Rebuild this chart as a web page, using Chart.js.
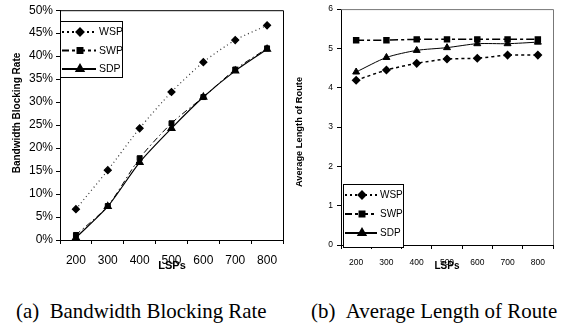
<!DOCTYPE html>
<html><head><meta charset="utf-8">
<script src="https://cdn.jsdelivr.net/npm/chart.js@4/dist/chart.umd.min.js"></script>
<style>
html,body{margin:0;padding:0;background:#fff;width:565px;height:326px;overflow:hidden;}
#wa{position:absolute;left:0;top:0;width:290px;height:275px;}
#wb{position:absolute;left:290px;top:0;width:275px;height:275px;}
.cap{position:absolute;top:301px;font-family:"Liberation Serif","Times New Roman",serif;font-size:20.9px;line-height:1;color:#000;white-space:nowrap;}
</style></head><body>
<div id="wa"><canvas id="ca"></canvas></div>
<div id="wb"><canvas id="cb"></canvas></div>
<div class="cap" style="left:16px">(a)&nbsp;&nbsp;Bandwidth Blocking Rate</div>
<div class="cap" style="left:311px">(b)&nbsp;&nbsp;Average Length of Route</div>
<script>
// ---- data ----
const lsps = ['200', '300', '400', '500', '600', '700', '800'];
const seriesNames = ['WSP', 'SWP', 'SDP'];
// (a) Bandwidth blocking rate, percent
const blockWSP = [6.7, 15.2, 24.3, 32.2, 38.7, 43.5, 46.7];
const blockSWP = [1.1, 7.4, 17.8, 25.4, 31.1, 37.1, 41.7];
const blockSDP = [0.5, 7.3, 16.9, 24.3, 31.1, 36.8, 41.5];
// (b) Average length of route
const routeWSP = [4.19, 4.45, 4.62, 4.73, 4.75, 4.83, 4.83];
const routeSWP = [5.21, 5.21, 5.23, 5.23, 5.23, 5.23, 5.23];
const routeSDP = [4.40, 4.77, 4.95, 5.02, 5.12, 5.12, 5.16];
const titleA = 'Bandwidth Blocking Rate';
const titleB = 'Average Length of Route';
const xTitle = 'LSPs';

const SANS = '"Liberation Sans", Arial, sans-serif';

// ---- plugins ----
const framePlugin = {
  id: 'frame',
  afterDatasetsDraw(chart, args, o) {
    const {ctx, chartArea: a} = chart;
    ctx.save();
    ctx.strokeStyle = o.color || '#000';
    ctx.lineWidth = 1;
    ctx.beginPath();
    ctx.moveTo(a.left, a.top + 0.5);
    ctx.lineTo(a.right + 0.5, a.top + 0.5);
    ctx.lineTo(a.right + 0.5, a.bottom);
    ctx.stroke();
    ctx.restore();
  }
};

const boxLegend = {
  id: 'boxLegend',
  afterDatasetsDraw(chart, args, o) {
    const ctx = chart.ctx;
    ctx.save();
    ctx.fillStyle = '#fff';
    ctx.fillRect(o.x, o.y, o.w, o.h);
    ctx.strokeStyle = '#000';
    ctx.lineWidth = 1;
    ctx.strokeRect(o.x + 0.5, o.y + 0.5, o.w, o.h);
    chart.data.datasets.forEach((ds, i) => {
      const y = o.y + o.row0 + i * o.rowGap;
      ctx.strokeStyle = '#000';
      ctx.lineWidth = o.lineWidth;
      ctx.setLineDash(o.dashes[i]);
      ctx.beginPath();
      ctx.moveTo(o.x + 2, y);
      ctx.lineTo(o.x + o.lineLen, y);
      ctx.stroke();
      ctx.setLineDash([]);
      ctx.fillStyle = '#000';
      Chart.helpers.drawPoint(ctx, {pointStyle: ds.pointStyle, radius: ds.pointRadius, rotation: 0, borderWidth: 1}, o.x + o.markX, y);
      ctx.fillStyle = '#000';
      ctx.font = o.font;
      ctx.textBaseline = 'middle';
      ctx.textAlign = 'left';
      ctx.fillText(ds.label, o.x + o.textX, y + 0.5);
    });
    ctx.restore();
  }
};

const axisTitles = {
  id: 'axisTitles',
  afterDraw(chart, args, o) {
    const ctx = chart.ctx;
    ctx.save();
    ctx.fillStyle = '#000';
    ctx.font = o.font;
    ctx.textAlign = 'center';
    ctx.textBaseline = 'middle';
    ctx.fillText(o.x.text, o.x.cx, o.x.cy);
    ctx.font = o.yfont;
    ctx.translate(o.y.cx, o.y.cy);
    ctx.rotate(-Math.PI / 2);
    ctx.fillText(o.y.text, 0, 0);
    ctx.restore();
  }
};

function mkDs(label, data, style, radius, dash, width, color) {
  return {
    label, data,
    borderColor: color, backgroundColor: '#000',
    pointBackgroundColor: '#000', pointBorderColor: '#000',
    pointStyle: style, pointRadius: radius, pointHoverRadius: radius,
    borderWidth: width, borderDash: dash, tension: 0.25, fill: false
  };
}

function mkOptions(cfg) {
  return {
    responsive: true, maintainAspectRatio: false, animation: false,
    layout: {padding: cfg.padding},
    plugins: {
      legend: {display: false}, tooltip: {enabled: false},
      frame: {color: cfg.frameColor},
      boxLegend: cfg.legend,
      axisTitles: cfg.titles
    },
    scales: {
      x: {
        type: 'category', offset: true,
        grid: {display: true, offset: true, drawOnChartArea: false, drawTicks: true, tickLength: 4, color: '#000', tickColor: '#000'},
        border: {display: true, color: '#000', width: 1},
        ticks: {color: '#000', font: {family: SANS, size: cfg.tickSize}, padding: cfg.xPad, maxRotation: 0, autoSkip: false},
        afterFit(s) { s.height = cfg.xHeight; }
      },
      y: {
        min: cfg.min, max: cfg.max,
        grid: {display: true, drawOnChartArea: false, drawTicks: true, tickLength: 4, color: '#000', tickColor: '#000'},
        border: {display: true, color: '#000', width: 1},
        ticks: {color: '#000', font: {family: SANS, size: cfg.tickSize}, padding: cfg.yPad, stepSize: cfg.step, callback: cfg.fmt},
        afterFit(s) { s.width = cfg.yWidth; }
      }
    }
  };
}

// ---- chart (a) ----
new Chart(document.getElementById('ca'), {
  type: 'line',
  data: {
    labels: lsps,
    datasets: [
      mkDs(seriesNames[0], blockWSP, 'rectRot', 3.5, [1, 3], 1.2, '#333'),
      mkDs(seriesNames[1], blockSWP, 'rect', 3.5, [6, 3, 1.5, 3], 1, '#000'),
      mkDs(seriesNames[2], blockSDP, 'triangle', 4, [], 1.2, '#000')
    ]
  },
  options: mkOptions({
    padding: {left: 0, top: 10, right: 7, bottom: 0},
    frameColor: '#000', tickSize: 12, xPad: 9, yPad: 3, xHeight: 35, yWidth: 60,
    min: 0, max: 50, step: 5, fmt: v => v + '%',
    legend: {x: 60, y: 21, w: 62, h: 56, row0: 11, rowGap: 18.5, lineLen: 36, markX: 20, textX: 39,
      lineWidth: 2, dashes: [[2, 3], [7, 3, 3, 3], []], font: '10.5px ' + SANS},
    titles: {font: 'bold 11px ' + SANS, yfont: 'bold 10px ' + SANS,
      x: {text: xTitle, cx: 172, cy: 266}, y: {text: titleA, cx: 17, cy: 113}}
  }),
  plugins: [framePlugin, boxLegend, axisTitles]
});

// ---- chart (b) ----
new Chart(document.getElementById('cb'), {
  type: 'line',
  data: {
    labels: lsps,
    datasets: [
      mkDs(seriesNames[0], routeWSP, 'rectRot', 3.5, [3, 3], 1.5, '#000'),
      mkDs(seriesNames[1], routeSWP, 'rect', 3.5, [8, 3, 3, 3], 1.5, '#000'),
      mkDs(seriesNames[2], routeSDP, 'triangle', 4, [], 1, '#000')
    ]
  },
  options: mkOptions({
    padding: {left: 0, top: 8, right: 12, bottom: 0},
    frameColor: '#777', tickSize: 8.5, xPad: 9, yPad: 4, xHeight: 30, yWidth: 51,
    min: 0, max: 6, step: 1, fmt: v => v,
    legend: {x: 53, y: 184, w: 60, h: 63, row0: 11, rowGap: 19, lineLen: 34, markX: 19, textX: 37,
      lineWidth: 2, dashes: [[2, 3], [7, 3, 3, 3], []], font: '10px ' + SANS},
    titles: {font: 'bold 10px ' + SANS, yfont: 'bold 9.3px ' + SANS,
      x: {text: xTitle, cx: 157, cy: 266}, y: {text: titleB, cx: 9, cy: 132}}
  }),
  plugins: [framePlugin, boxLegend, axisTitles]
});
</script>
</body></html>
